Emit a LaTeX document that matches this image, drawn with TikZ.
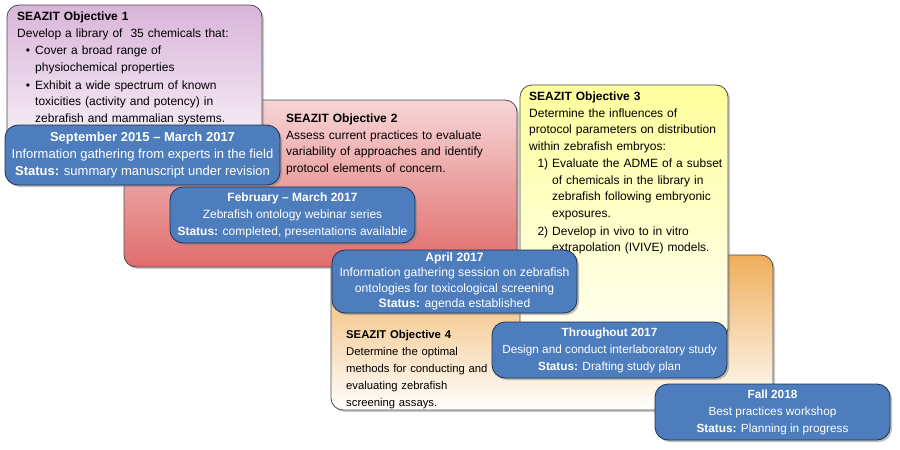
\documentclass[tikz,border=0pt]{standalone}
\usepackage{fontspec}
\setmainfont{Liberation Sans}
\usepackage{enumitem}
\usetikzlibrary{shadows}
\definecolor{milestone}{HTML}{4D7DBC}
\definecolor{milestonedraw}{HTML}{1E3050}
\definecolor{objonetop}{HTML}{D9B5D9}
\definecolor{objtwobottom}{HTML}{E06C6C}
\definecolor{objtwotop}{HTML}{F7D5D5}
\definecolor{objthreetop}{HTML}{FFFF9C}
\definecolor{objfourtop}{HTML}{EFAE5A}
\tikzset{
  objective/.style={
      rectangle,
      rounded corners=12pt,
      draw=black!70,
      thick,
      drop shadow={shadow xshift=2pt,shadow yshift=-2pt,opacity=.4}
  },
  objtext/.style={
      anchor=north west,
      inner sep=0pt,
      align=left,
      font=\fontsize{12}{16.5}\selectfont
  },
  milestonebox/.style={
      rectangle,
      rounded corners=13pt,
      draw=milestonedraw,
      thick,
      fill=milestone,
      text=white,
      align=center,
      inner sep=0pt,
      font=\fontsize{#1}{17}\selectfont,
      drop shadow={shadow xshift=2pt,shadow yshift=-2pt,opacity=.5}
  }
}
\setlist[itemize]{leftmargin=18pt,labelsep=5pt,itemsep=1.5pt,topsep=1pt,parsep=0pt,label=\textbullet}
\setlist[enumerate]{leftmargin=23pt,labelsep=4pt,itemsep=1.5pt,topsep=1pt,parsep=0pt,label=\arabic*)}

\begin{document}
\begin{tikzpicture}[x=1pt,y=-1pt]
    \useasboundingbox (0,0) rectangle (900,450);
    % objective panels
    \draw[objective,top color=objfourtop,bottom color=white] (331,255) rectangle (773,410);
    \draw[objective,top color=objtwotop,bottom color=objtwobottom] (124,100) rectangle (517,267);
    \draw[objective,top color=objonetop,bottom color=white] (7,5) rectangle (262,180);
    \draw[objective,top color=objthreetop,bottom color=yellow!5] (520,85) rectangle (728,340);
    \node[objtext,text width=240pt] (obj1) at (17,12) {\textbf{SEAZIT Objective 1}\\
      Develop a library of~ 35 chemicals that:
      \begin{itemize}
        \item Cover a broad range of\\physiochemical properties
        \item Exhibit a wide spectrum of known\\toxicities (activity and potency) in\\zebrafish and mammalian systems.
      \end{itemize}};
    \node[objtext,text width=228pt] (obj2) at (286,114) {\textbf{SEAZIT Objective 2}\\
      Assess current practices to evaluate\\variability of approaches and identify\\protocol elements of concern.};
    \node[objtext,text width=205pt] (obj3) at (529,92) {\textbf{SEAZIT Objective 3}\\
      Determine the influences of\\protocol parameters on distribution\\within zebrafish embryos:
      \begin{enumerate}
        \item Evaluate the ADME of a subset\\of chemicals in the library in\\zebrafish following embryonic\\exposures.
        \item Develop in vivo to in vitro\\extrapolation (IVIVE) models.
      \end{enumerate}};
    \node[objtext,text width=180pt,font=\fontsize{11.3}{17}\selectfont] (obj4) at (346,330) {\textbf{SEAZIT Objective 4}\\
      Determine the optimal\\methods for conducting and\\evaluating zebrafish\\screening assays.};
    % milestones
    \node[milestonebox=13,minimum width=275pt,minimum height=60pt] (sep2015) at (142.5,155)
      {\textbf{September 2015 -- March 2017}\\Information gathering from experts in the field\\\textbf{Status:} summary manuscript under revision};
    \node[milestonebox=12,minimum width=245pt,minimum height=56pt] (feb2017) at (292.5,215)
      {\textbf{February -- March 2017}\\Zebrafish ontology webinar series\\\textbf{Status:} completed, presentations available};
    \node[milestonebox=12.2,minimum width=245pt,minimum height=63pt,font=\fontsize{12.2}{15.5}\selectfont] (apr2017) at (454.5,281.5)
      {\textbf{April 2017}\\Information gathering session on zebrafish\\ontologies for toxicological screening\\\textbf{Status:} agenda established};
    \node[milestonebox=11.8,minimum width=235pt,minimum height=56pt] (thr2017) at (609.5,350)
      {\textbf{Throughout 2017}\\Design and conduct interlaboratory study\\\textbf{Status:} Drafting study plan};
    \node[milestonebox=11.8,minimum width=235pt,minimum height=56pt] (fall2018) at (772.5,412)
      {\textbf{Fall 2018}\\Best practices workshop\\\textbf{Status:} Planning in progress};
\end{tikzpicture}
\end{document}
